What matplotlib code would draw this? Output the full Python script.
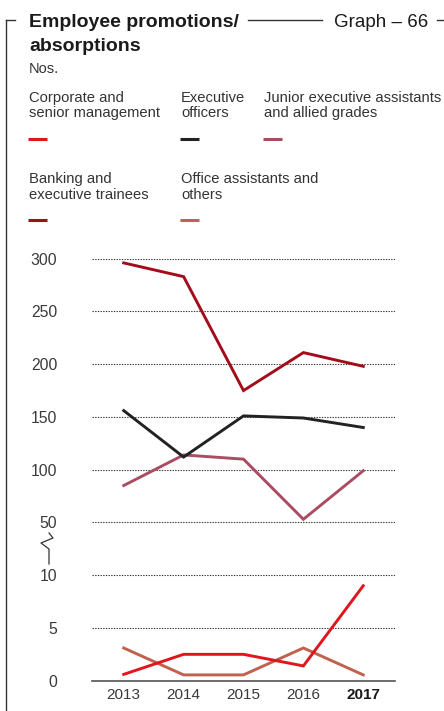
import numpy as np
import matplotlib.pyplot as plt
from matplotlib.lines import Line2D

plt.rcParams['font.family'] = ['Liberation Sans', 'DejaVu Sans']

# данные
years = [2013, 2014, 2015, 2016, 2017]
corporate = [0.6, 2.5, 2.5, 1.4, 9.0]
executive = [156, 112, 151, 149, 140]
junior = [85, 114, 110, 53, 99]
banking = [296, 283, 175, 211, 198]
office = [3.1, 0.55, 0.55, 3.1, 0.55]

series_names = ['Corporate and\nsenior management', 'Executive\nofficers',
                'Junior executive assistants\nand allied grades',
                'Banking and\nexecutive trainees', 'Office assistants and\nothers']
series_colors = ['#e2151f', '#222222', '#a84d62', '#a30c1a', '#c0624e']
y_ticks = [0, 5, 10, 50, 100, 150, 200, 250, 300]

W, H = 444, 711
txt = '#333333'


# разрыв оси: 0-10 и 50-300 с одинаковым шагом делений
def fwd(v):
    v = np.asarray(v, dtype=float)
    return np.where(v <= 10, v / 5, np.where(v <= 50, 2 + (v - 10) / 40, 3 + (v - 50) / 50))


def inv(p):
    p = np.asarray(p, dtype=float)
    return np.where(p <= 2, p * 5, np.where(p <= 3, 10 + (p - 2) * 40, 50 + (p - 3) * 50))


def fx(x):
    return x / W


def fy(y):
    return 1 - y / H


fig = plt.figure(figsize=(W / 100, H / 100), dpi=100)
ax = fig.add_axes([fx(92), fy(680.7), 303 / W, (680.7 - 258.7) / H])

ax.set_yscale('function', functions=(fwd, inv))
ax.set_ylim(0, 300)
ax.set_xlim(2012.47, 2017.53)

# линии серий (рисую снизу вверх)
all_series = [corporate, executive, junior, banking, office]
order = [4, 0, 2, 1, 3]
for i in order:
    ax.plot(years, all_series[i], color=series_colors[i], lw=2.1,
            solid_joinstyle='miter', clip_on=False, zorder=3)

# сетка
ax.set_yticks(y_ticks)
ax.set_yticklabels([str(t) for t in y_ticks])
ax.grid(axis='y', color='#333333', linestyle=(0, (1.2, 1.2)), lw=0.8)
ax.set_axisbelow(True)
for s in ['top', 'right', 'left']:
    ax.spines[s].set_visible(False)
ax.spines['bottom'].set_color('#555555')
ax.spines['bottom'].set_linewidth(1.2)

ax.tick_params(axis='y', length=0, pad=25, labelsize=11.3, labelcolor='#3a3a3a')
ax.tick_params(axis='x', length=0, pad=5, labelsize=11, labelcolor='#3a3a3a')
ax.set_xticks(years)
ax.set_xticklabels([str(y) for y in years])
ax.get_xticklabels()[-1].set_fontweight('bold')
ax.get_xticklabels()[-1].set_color('#1a1a1a')

# значок разрыва оси
bx = [49, 49, 41, 53, 49]
by = [564, 549, 543, 538, 533]
fig.add_artist(Line2D([fx(x) for x in bx], [fy(y) for y in by],
                      color='#333333', lw=0.9))

# рамка и заголовок
frame = '#333333'
fig.add_artist(Line2D([fx(6), fx(6)], [fy(20), fy(711)], color=frame, lw=1))
fig.add_artist(Line2D([fx(6), fx(15)], [fy(20), fy(20)], color=frame, lw=1))
fig.add_artist(Line2D([fx(248), fx(322)], [fy(20), fy(20)], color=frame, lw=1))
fig.add_artist(Line2D([fx(437), fx(444)], [fy(20), fy(20)], color=frame, lw=1))

fig.text(fx(29), fy(27.3), 'Employee promotions/', fontsize=14, fontweight='bold',
         color='#1a1a1a', va='baseline')
fig.text(fx(29), fy(50.7), 'absorptions', fontsize=14, fontweight='bold',
         color='#1a1a1a', va='baseline')
fig.text(fx(334), fy(27.3), 'Graph – 66', fontsize=13.5, color='#1a1a1a', va='baseline')
fig.text(fx(29), fy(72.7), 'Nos.', fontsize=10.5, color=txt, va='baseline')

# легенда
leg_x = [29, 181, 264, 29, 181]
leg_base = [101.7, 101.7, 101.7, 183.3, 183.3]
leg_mark = [139, 139, 139, 220.3, 220.3]
for i, name in enumerate(series_names):
    for k, line in enumerate(name.split('\n')):
        fig.text(fx(leg_x[i]), fy(leg_base[i] + k * 15.7), line, fontsize=10.6,
                 color=txt, va='baseline')
    fig.add_artist(Line2D([fx(leg_x[i] - 1), fx(leg_x[i] + 18)],
                          [fy(leg_mark[i]), fy(leg_mark[i])],
                          color=series_colors[i], lw=2.2, solid_capstyle='butt'))

fig.savefig('out.png', dpi=100)
